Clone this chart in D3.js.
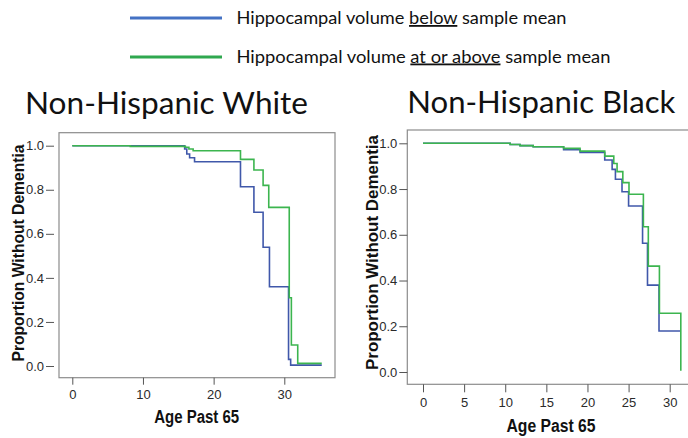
<!DOCTYPE html>
<html>
<head>
<meta charset="utf-8">
<script src="https://cdn.jsdelivr.net/npm/d3@7/dist/d3.min.js"></script>
<style>
  html, body { margin: 0; padding: 0; background: #fff; }
  svg { display: block; }
  .tick text { font-family: "Liberation Sans", Arial, sans-serif; font-size: 13px; fill: #2a2a2a; }
  .tick line { stroke: #555; }
</style>
</head>
<body>
<svg id="chart" width="688" height="438"></svg>
<script>
// Kaplan-Meier curves: [years past 65, proportion without dementia]
const whiteBelow = [[0,1],[15.9,0.985],[16.2,0.962],[16.6,0.945],[17.3,0.927],[23.8,0.814],[25.7,0.698],[27.0,0.539],[27.9,0.36],[30.6,0.03],[30.9,0.004],[35.3,0.004]];
const whiteAbove = [[0,1],[8.2,0.997],[16.0,0.993],[16.5,0.985],[17.1,0.977],[23.8,0.938],[25.7,0.89],[27.0,0.82],[27.8,0.72],[30.7,0.31],[31.0,0.095],[31.9,0.012],[35.3,0.012]];
const blackBelow = [[0,1],[10.6,0.995],[11.8,0.99],[13.4,0.985],[17.1,0.972],[19.1,0.96],[22.1,0.927],[23.0,0.886],[23.4,0.843],[24.2,0.788],[25.0,0.726],[26.7,0.563],[27.3,0.38],[28.7,0.179],[31.35,0.179]];
const blackAbove = [[0,1],[10.6,0.995],[11.8,0.99],[13.4,0.985],[17.1,0.978],[19.1,0.966],[22.1,0.944],[23.2,0.912],[23.6,0.876],[24.3,0.828],[25.05,0.777],[26.8,0.635],[27.4,0.463],[28.75,0.257],[31.35,0.006]];

const whiteXTicks = [0, 10, 20, 30];
const blackXTicks = [0, 5, 10, 15, 20, 25, 30];
const yTicks = [0, 0.2, 0.4, 0.6, 0.8, 1.0];

const legendLabels = [
  ["Hippocampal volume ", "below", " sample mean"],
  ["Hippocampal volume ", "at or above", " sample mean"]
];
const panelTitles = ["Non-Hispanic White", "Non-Hispanic Black"];
const xTitle = "Age Past 65";
const yTitle = "Proportion Without Dementia";

const BLUE = "#4058aa", GREEN = "#3cb54f";
const LEG_BLUE = "#4472c4", LEG_GREEN = "#2fa84f";

const svg = d3.select("#chart");
const titleFont = "Lato, 'Open Sans', sans-serif";
const axisFont = "'Liberation Sans', Arial, sans-serif";

// Legend
const legendRows = [
  {y: 18, ty: 24, color: LEG_BLUE, len: 330, parts: legendLabels[0]},
  {y: 57, ty: 62.5, color: LEG_GREEN, len: 374, parts: legendLabels[1]}
];
legendRows.forEach(r => {
  svg.append("line").attr("x1", 130).attr("x2", 222).attr("y1", r.y).attr("y2", r.y)
    .attr("stroke", r.color).attr("stroke-width", 3);
  const t = svg.append("text").attr("x", 236.5).attr("y", r.ty)
    .attr("font-family", titleFont).attr("font-size", 18).attr("fill", "#111")
    .attr("textLength", r.len).attr("lengthAdjust", "spacingAndGlyphs");
  t.append("tspan").text(r.parts[0]);
  t.append("tspan").attr("text-decoration", "underline").text(r.parts[1]);
  t.append("tspan").text(r.parts[2]);
});

const panels = [
  {
    title: panelTitles[0], titleX: 25, titleY: 114, titleLen: 283,
    frame: {x0: 59, x1: 335, y0: 132.7, y1: 377.7},
    x: d3.scaleLinear().domain([0, 30]).range([72.3, 284.3]),
    y: d3.scaleLinear().domain([0, 1]).range([366, 145.7]),
    xTicks: whiteXTicks, yAxisX: 54, yTickLen: 8, xTickLen: 7,
    xTitleX: 196.7, xTitleY: 423, xTitleLen: 85,
    yTitleX: 18.3, yTitleY: 253, yTitleLen: 217,
    series: [whiteBelow, whiteAbove]
  },
  {
    title: panelTitles[1], titleX: 407.3, titleY: 112.5, titleLen: 268,
    frame: {x0: 407.3, x1: 692, y0: 130, y1: 384.3},
    x: d3.scaleLinear().domain([0, 30]).range([423, 669.7]),
    y: d3.scaleLinear().domain([0, 1]).range([372, 143.3]),
    xTicks: blackXTicks, yAxisX: 407.3, yTickLen: 8, xTickLen: 8,
    xTitleX: 551, xTitleY: 431.5, xTitleLen: 89,
    yTitleX: 371.7, yTitleY: 252.5, yTitleLen: 235,
    series: [blackBelow, blackAbove]
  }
];

panels.forEach(p => {
  svg.append("text").attr("x", p.titleX).attr("y", p.titleY)
    .attr("font-family", titleFont).attr("font-size", 31).attr("fill", "#111")
    .attr("textLength", p.titleLen).attr("lengthAdjust", "spacingAndGlyphs")
    .text(p.title);

  const f = p.frame;
  svg.append("rect").attr("x", f.x0).attr("y", f.y0)
    .attr("width", f.x1 - f.x0).attr("height", f.y1 - f.y0)
    .attr("fill", "#fff").attr("stroke", "#8c8c8c").attr("stroke-width", 1.2);

  const yAxis = svg.append("g").attr("transform", `translate(${p.yAxisX},0)`)
    .call(d3.axisLeft(p.y).tickValues(yTicks).tickFormat(d3.format(".1f"))
      .tickSize(p.yTickLen).tickSizeOuter(0).tickPadding(2));
  yAxis.select(".domain").remove();

  const xAxis = svg.append("g").attr("transform", `translate(0,${f.y1})`)
    .call(d3.axisBottom(p.x).tickValues(p.xTicks).tickFormat(d3.format("d"))
      .tickSize(p.xTickLen).tickSizeOuter(0).tickPadding(5));
  xAxis.select(".domain").remove();

  const line = d3.line().x(d => p.x(d[0])).y(d => p.y(d[1])).curve(d3.curveStepAfter);
  [BLUE, GREEN].forEach((c, i) => {
    svg.append("path").datum(p.series[i]).attr("d", line)
      .attr("fill", "none").attr("stroke", c).attr("stroke-width", 1.6);
  });

  svg.append("text").attr("x", p.xTitleX).attr("y", p.xTitleY)
    .attr("text-anchor", "middle").attr("font-family", axisFont)
    .attr("font-weight", "bold").attr("font-size", 18).attr("fill", "#111")
    .attr("textLength", p.xTitleLen).attr("lengthAdjust", "spacingAndGlyphs")
    .text(xTitle);

  svg.append("text")
    .attr("transform", `translate(${p.yTitleX + 6},${p.yTitleY}) rotate(-90)`)
    .attr("text-anchor", "middle").attr("font-family", axisFont)
    .attr("font-weight", "bold").attr("font-size", 16.5).attr("fill", "#111")
    .attr("textLength", p.yTitleLen).attr("lengthAdjust", "spacingAndGlyphs")
    .text(yTitle);
});
</script>
</body>
</html>
